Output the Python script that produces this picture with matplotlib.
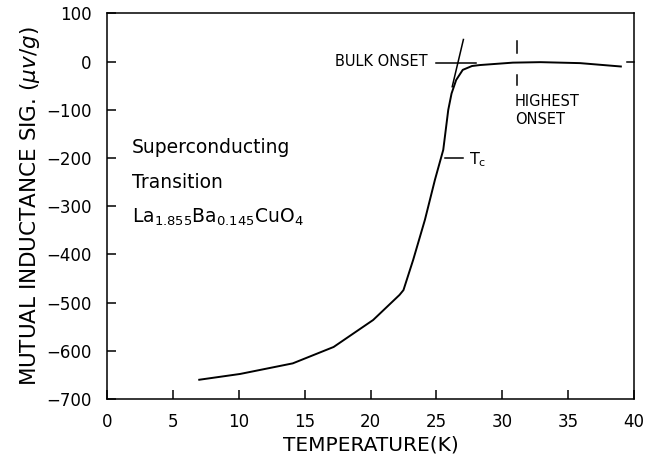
import matplotlib
matplotlib.use('Agg')
import matplotlib.pyplot as plt

# mutual inductance signal vs temperature
temperatura = [7.0, 10.1, 14.1, 17.2, 20.2, 22.2, 22.5, 23.24, 24.13, 24.89, 25.52,
               25.9, 26.15, 26.5, 27.0, 27.7, 28.3, 30.8, 32.9, 35.9, 39.0]
segnale = [-660, -648, -626, -592, -536, -484, -474, -411, -328, -245, -183,
           -100, -66, -38, -17, -9, -7, -2, -1, -3, -10]

# construction lines for the onset
bulk_x = [25.0, 28.0]
bulk_y = [-2, -2]
tangente_x = [27.05, 26.2]
tangente_y = [46, -52]
highest_onset = 31.1

tick_x = [0, 5, 10, 15, 20, 25, 30, 35, 40]
tick_y = [100, 0, -100, -200, -300, -400, -500, -600, -700]

plt.rcParams['font.family'] = ['DejaVu Sans']
plt.rcParams['mathtext.default'] = 'regular'

fig = plt.figure(figsize=(6.45, 4.54), dpi=100)
ax = fig.add_axes([0.1659, 0.1211, 0.8171, 0.8492])

ax.plot(temperatura, segnale, color='black', linewidth=1.4)
ax.plot(bulk_x, bulk_y, color='black', linewidth=1.1)
ax.plot(tangente_x, tangente_y, color='black', linewidth=1.1)
ax.plot([highest_onset, highest_onset], [43, 17], color='black', linewidth=1.1)
ax.plot([highest_onset, highest_onset], [-28, -48], color='black', linewidth=1.1)
ax.plot([25.65, 27.0], [-200, -200], color='black', linewidth=1.1)

ax.set_xlim(0, 40)
ax.set_ylim(-700, 100)
ax.set_xticks(tick_x)
ax.set_yticks(tick_y)
ax.set_yticklabels([str(v).replace('-', '\u2212') for v in tick_y])
ax.tick_params(direction='in', length=6.5, width=1.1, labelsize=12)
ax.tick_params(axis='x', pad=10)
ax.tick_params(axis='y', pad=11)

# only a short mark at zero on the right side
ax.plot([39.5, 40], [0, 0], color='black', linewidth=1.1, clip_on=False)

for s in ax.spines.values():
    s.set_linewidth(1.1)

ax.set_xlabel('TEMPERATURE(K)', fontsize=14.5, labelpad=3)
ax.set_ylabel(r'MUTUAL INDUCTANCE SIG. ($\it{\mu v/g}$)', fontsize=15.5, labelpad=3)

ax.text(1.9, -179, 'Superconducting', fontsize=13.5, va='center')
ax.text(1.9, -250, 'Transition', fontsize=13.5, va='center')
ax.text(1.9, -322, r'La$_{1.855}$Ba$_{0.145}$CuO$_4$', fontsize=13.5, va='center')

ax.text(24.3, 0, 'BULK ONSET', fontsize=10.5, ha='right', va='center')
ax.text(30.95, -83, 'HIGHEST', fontsize=10.5, ha='left', va='center')
ax.text(30.95, -121, 'ONSET', fontsize=10.5, ha='left', va='center')
ax.text(27.5, -203, r'T$_c$', fontsize=11.5, ha='left', va='center')

fig.savefig('out.png', dpi=100)
